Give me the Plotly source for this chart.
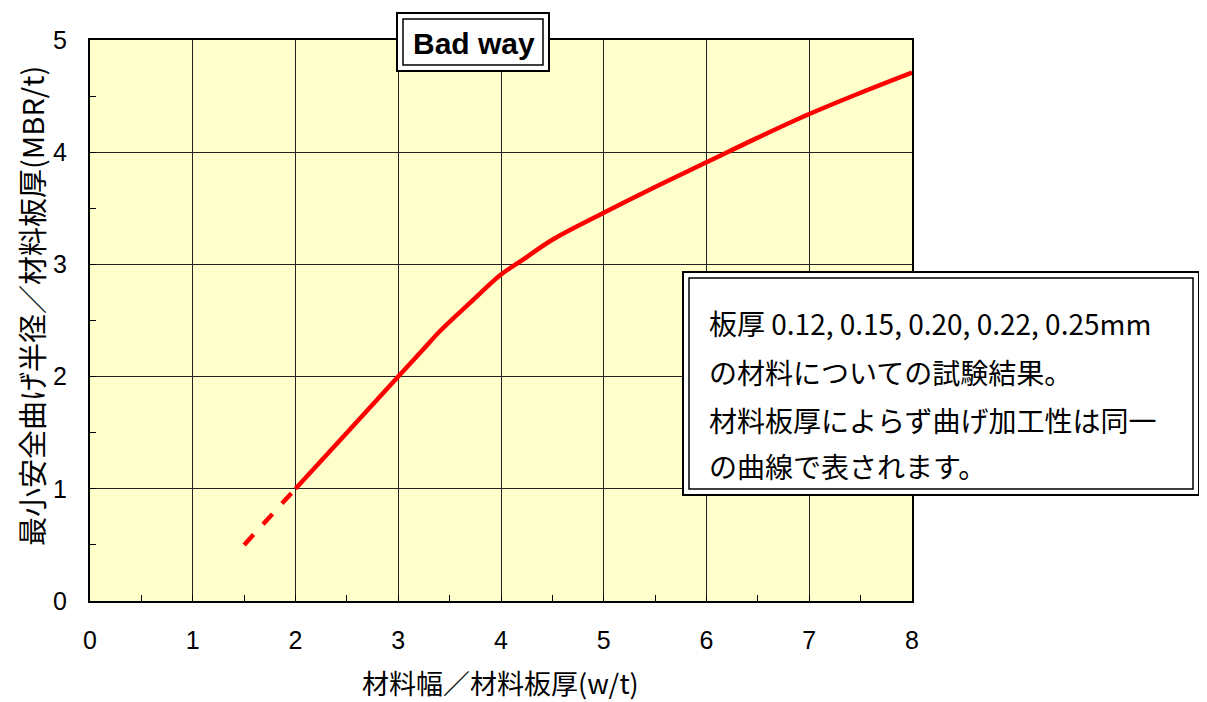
import plotly.graph_objects as go

# Data
dash_x = [1.5, 2.0]
dash_y = [0.5, 1.0]
curve_x = [2.0, 2.5, 3.0, 3.24, 3.4, 3.69, 4.0, 4.21, 4.5, 5.0, 5.5, 6.0, 6.5, 7.0, 7.5, 8.0]
curve_y = [1.0, 1.5, 2.0, 2.24, 2.40, 2.65, 2.91, 3.04, 3.22, 3.46, 3.69, 3.91, 4.13, 4.34, 4.53, 4.71]
x_ticks = [0, 1, 2, 3, 4, 5, 6, 7, 8]
y_ticks = [0, 1, 2, 3, 4, 5]
title_text = "Bad way"
note_lines = [
    "板厚 0.12, 0.15, 0.20, 0.22, 0.25mm",
    "の材料についての試験結果。",
    "材料板厚によらず曲げ加工性は同一",
    "の曲線で表されます。",
]
x_title = "材料幅／材料板厚(w/t)"
y_title = "最小安全曲げ半径／材料板厚(MBR/t)"

W, H = 1207, 702
OFF = 8  # page body margin offset
PX0, PX1, PY0, PY1 = 90, 912, 40, 601  # plot area in page pixels
PW, PH = PX1 - PX0, PY1 - PY0
L, T = PX0 - OFF, PY0 - OFF
R, B = W - L - PW, H - T - PH


def px(xp):
    return (xp - PX0) / PW


def py(yp):
    return (PY1 - yp) / PH


fig = go.Figure()
fig.add_trace(go.Scatter(x=dash_x, y=dash_y, mode="lines",
                         line=dict(color="#FF0000", width=4.5, dash="14px,14px"),
                         hoverinfo="skip", showlegend=False))
fig.add_trace(go.Scatter(x=curve_x, y=curve_y, mode="lines",
                         line=dict(color="#FF0000", width=4.5, shape="spline", smoothing=1.0),
                         showlegend=False))

shapes = []
# Bad way double box
shapes.append(dict(type="rect", xref="paper", yref="paper",
                   x0=px(397), x1=px(549), y0=py(71), y1=py(13),
                   line=dict(color="black", width=2), fillcolor="white", layer="above"))
shapes.append(dict(type="rect", xref="paper", yref="paper",
                   x0=px(403), x1=px(543), y0=py(65), y1=py(19),
                   line=dict(color="black", width=1.5), fillcolor="white", layer="above"))
# note double box
shapes.append(dict(type="rect", xref="paper", yref="paper",
                   x0=px(683), x1=px(1199), y0=py(495), y1=py(272),
                   line=dict(color="black", width=2), fillcolor="white", layer="above"))
shapes.append(dict(type="rect", xref="paper", yref="paper",
                   x0=px(689), x1=px(1193), y0=py(489), y1=py(278),
                   line=dict(color="black", width=1.5), fillcolor="white", layer="above"))

annotations = [dict(text="<b>" + title_text + "</b>", xref="paper", yref="paper",
                    x=px(474), y=py(43), xanchor="center", yanchor="middle",
                    showarrow=False,
                    font=dict(family="Liberation Sans, Arial", size=30, color="black"))]
line_ys = [323, 372, 420, 466]
for t, yy in zip(note_lines, line_ys):
    annotations.append(dict(text=t, xref="paper", yref="paper",
                            x=px(707), y=py(yy), xanchor="left", yanchor="middle",
                            showarrow=False,
                            font=dict(family="Noto Sans CJK JP", size=28, color="black")))
# axis titles
annotations.append(dict(text=x_title, xref="paper", yref="paper",
                        x=px(500), y=py(682), xanchor="center", yanchor="middle",
                        showarrow=False,
                        font=dict(family="Noto Sans CJK JP", size=27, color="black")))
annotations.append(dict(text=y_title, xref="paper", yref="paper",
                        x=px(31), y=py(306), xanchor="center", yanchor="middle",
                        textangle=-90, showarrow=False,
                        font=dict(family="Noto Sans CJK JP", size=29, color="black")))

fig.update_layout(
    width=W, height=H,
    margin=dict(l=L, r=R, t=T, b=B, autoexpand=False),
    paper_bgcolor="white",
    plot_bgcolor="#FFFFCC",
    shapes=shapes,
    annotations=annotations,
    showlegend=False,
    xaxis=dict(
        range=[0, 8], tickvals=x_ticks, ticktext=[str(v) for v in x_ticks],
        automargin=False,
        showgrid=True, gridcolor="#222222", gridwidth=1,
        showline=True, linecolor="black", linewidth=2, mirror=True,
        ticks="inside", ticklen=6, tickcolor="black",
        minor=dict(dtick=0.5, ticks="inside", ticklen=6, tickcolor="black", showgrid=False),
        zeroline=False,
        ticklabelstandoff=16,
        tickfont=dict(family="Liberation Sans, Arial", size=25, color="black"),
    ),
    yaxis=dict(
        range=[0, 5], tickvals=y_ticks, ticktext=[str(v) for v in y_ticks],
        automargin=False,
        showgrid=True, gridcolor="#222222", gridwidth=1,
        showline=True, linecolor="black", linewidth=2, mirror=True,
        ticks="inside", ticklen=6, tickcolor="black",
        minor=dict(dtick=0.5, ticks="inside", ticklen=6, tickcolor="black", showgrid=False),
        zeroline=False,
        ticklabelstandoff=16,
        tickfont=dict(family="Liberation Sans, Arial", size=25, color="black"),
    ),
)

fig.write_html("out.html")
